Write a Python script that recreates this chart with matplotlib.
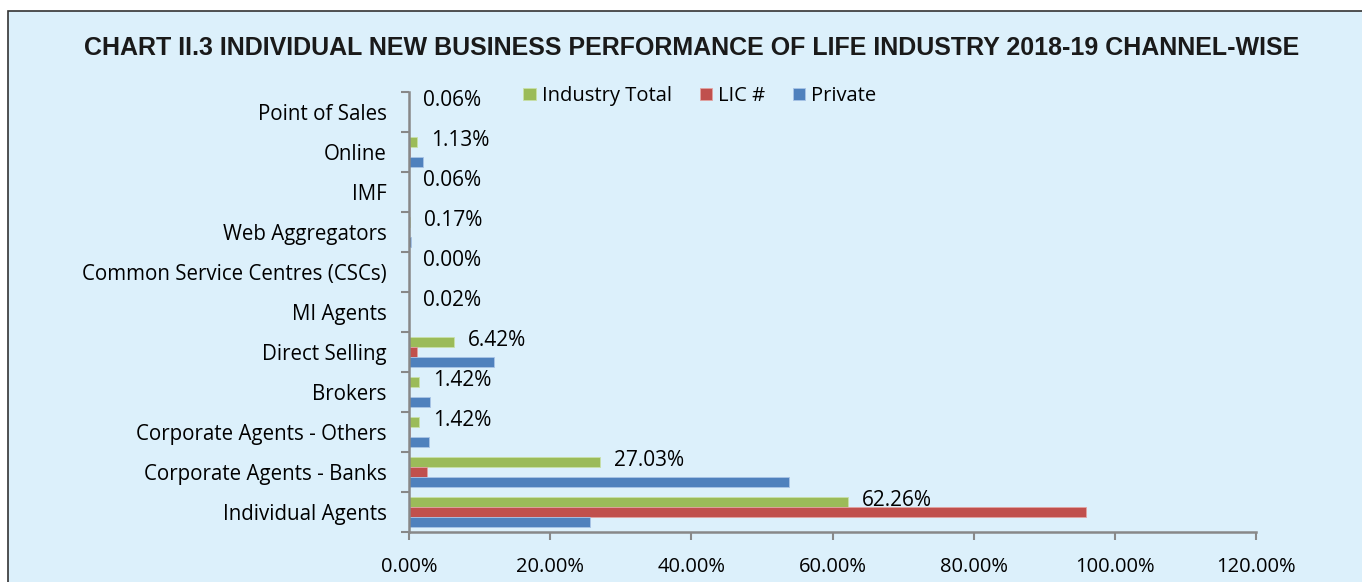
import matplotlib
matplotlib.use("Agg")
import matplotlib.pyplot as plt
import numpy as np
from matplotlib.patches import Rectangle
from matplotlib.ticker import FuncFormatter, FixedLocator

categories = ["Individual Agents", "Corporate Agents - Banks", "Corporate Agents - Others",
              "Brokers", "Direct Selling", "MI Agents", "Common Service Centres (CSCs)",
              "Web Aggregators", "IMF", "Online", "Point of Sales"]
industry = [62.26, 27.03, 1.42, 1.42, 6.42, 0.02, 0.00, 0.17, 0.06, 1.13, 0.06]
lic = [95.9, 2.5, 0.1, 0.05, 1.2, 0.0, 0.0, 0.0, 0.06, 0.2, 0.06]
private = [25.6, 53.8, 2.8, 3.0, 12.0, 0.03, 0.0, 0.35, 0.06, 2.0, 0.06]
label_text = ["62.26%", "27.03%", "1.42%", "1.42%", "6.42%", "0.02%", "0.00%",
              "0.17%", "0.06%", "1.13%", "0.06%"]
series_names = ["Industry Total", "LIC #", "Private"]
colors = ["#9BBB59", "#C0504D", "#4F81BD"]
title = "CHART II.3 INDIVIDUAL NEW BUSINESS PERFORMANCE OF LIFE INDUSTRY 2018-19 CHANNEL-WISE"

plt.rcParams['font.family'] = ['Open Sans', 'DejaVu Sans']
bg = "#DCF0FB"

fig = plt.figure(figsize=(13.62, 5.82), dpi=100)
fig.patch.set_facecolor("white")
# light blue panel with border
panel = Rectangle((8/1362, -0.1), 1.1, 1 - 11/582 + 0.1, transform=fig.transFigure,
                  facecolor=bg, edgecolor="#333333", linewidth=1.2, zorder=-5)
fig.patches.append(panel)

ax = fig.add_axes([409/1362, 1 - 532/582, (1256 - 409)/1362, (532 - 92)/582])
ax.set_zorder(5)
ax.set_facecolor(bg)

y = np.arange(len(categories))
h = 0.25
ax.barh(y + h, industry, height=h, color=colors[0], edgecolor="#C9E0A8", linewidth=0.6, label=series_names[0])
ax.barh(y, lic, height=h, color=colors[1], edgecolor="#E2A3A1", linewidth=0.6, label=series_names[1])
ax.barh(y - h, private, height=h, color=colors[2], edgecolor="#A9C4E6", linewidth=0.6, label=series_names[2])

for yi, v, t in zip(y, industry, label_text):
    ax.annotate(t, xy=(v, yi + h), xytext=(10, 1), textcoords="offset points",
                ha="left", va="center", fontsize=15, color="#000000")

ax.set_xlim(0, 120)
ax.set_ylim(-0.5, len(categories) - 0.5)
ax.set_xticks(np.arange(0, 121, 20))
ax.xaxis.set_major_formatter(FuncFormatter(lambda v, p: f"{v:.2f}%"))
ax.set_yticks(y)
ax.set_yticklabels(categories)
ax.yaxis.set_minor_locator(FixedLocator(np.arange(-0.5, len(categories), 1.0)))
ax.tick_params(axis="y", which="major", length=0, pad=16, labelsize=14.8, labelcolor="#000000")
ax.tick_params(axis="y", which="minor", length=6, width=1.5, color="#888888", direction="out")
ax.tick_params(axis="x", which="major", length=6, width=1.5, color="#888888", direction="out",
               pad=12, labelsize=14.5, labelcolor="#000000")
for s in ["top", "right"]:
    ax.spines[s].set_visible(False)
for s in ["left", "bottom"]:
    ax.spines[s].set_color("#888888")
    ax.spines[s].set_linewidth(1.8)

leg = fig.legend(loc="center", bbox_to_anchor=(700/1362, 1 - 96/582), ncol=3, frameon=False,
                 fontsize=14.5, handlelength=0.6, handleheight=0.6, handletextpad=0.3,
                 columnspacing=1.4)
for txt in leg.get_texts():
    txt.set_color("#000000")

fig.text(692/1362, 1 - 48/582, title, ha="center", va="center", fontsize=18,
         fontweight="bold", family=["Liberation Sans", "DejaVu Sans"],
         color="#1a1a1a")

fig.savefig("out.png", dpi=100, facecolor=fig.get_facecolor())
